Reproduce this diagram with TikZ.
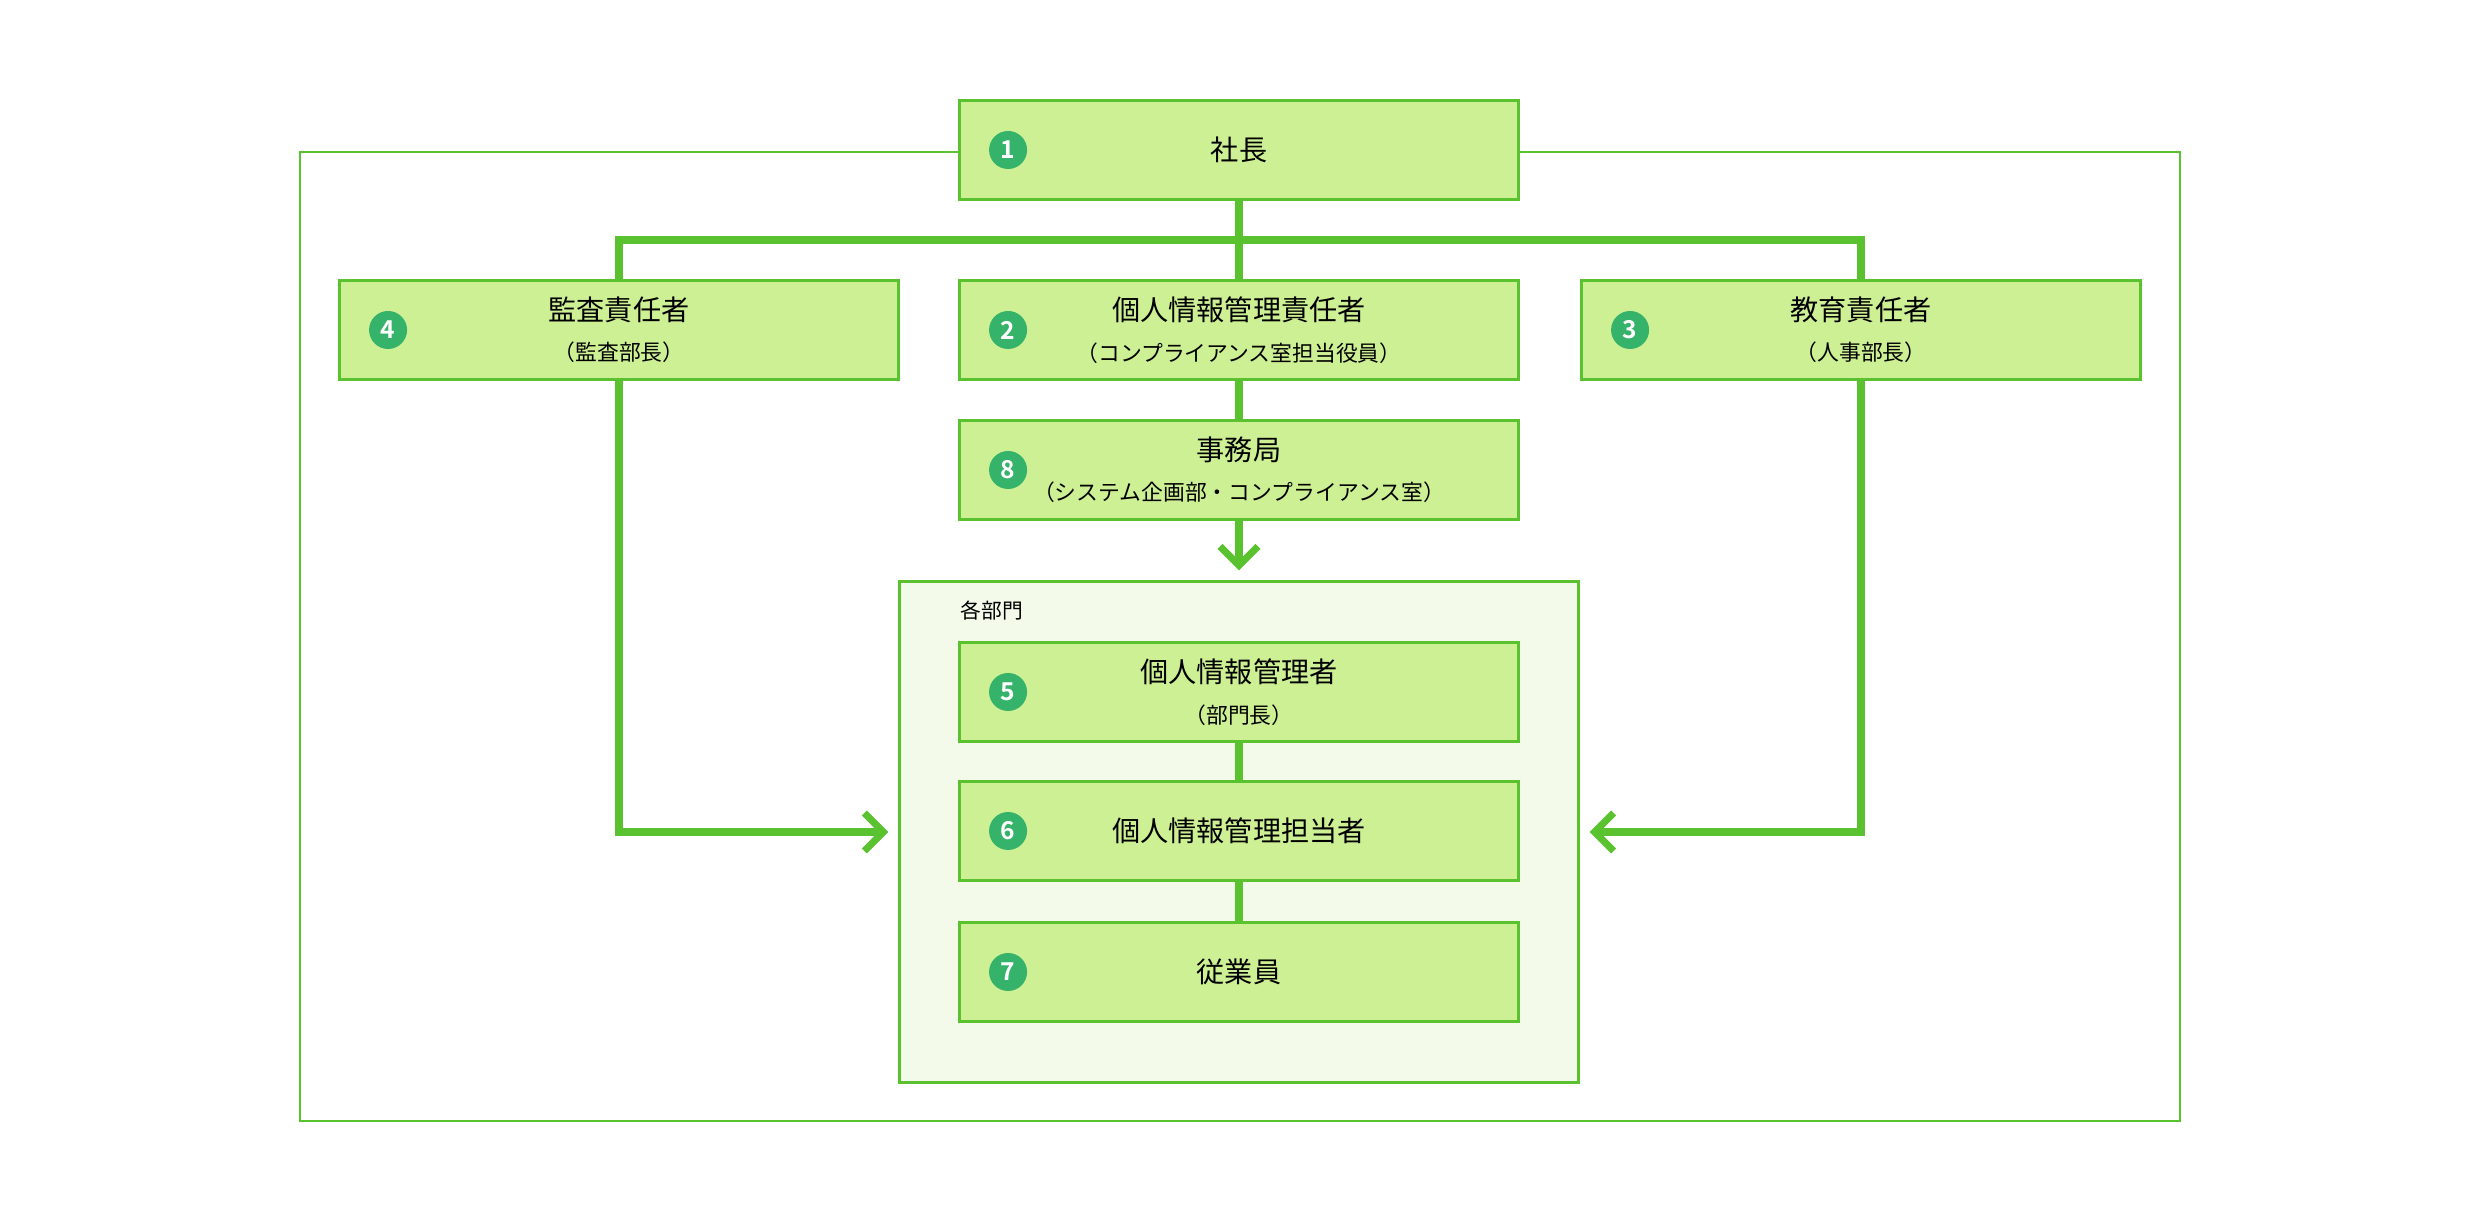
\documentclass[tikz,border=0pt]{standalone}
\usepackage{fontspec}
\setmainfont{Noto Sans CJK JP}[BoldFont={Noto Sans CJK JP Bold}]
\usetikzlibrary{positioning, arrows.meta}
\definecolor{lngreen}{RGB}{91,194,47}
\definecolor{boxgreen}{RGB}{204,240,147}
\definecolor{deptgreen}{RGB}{243,250,233}
\definecolor{numgreen}{RGB}{54,179,106}
\newcommand{\subline}[1]{\\[1.5pt]{\fontsize{6.2pt}{7pt}\selectfont #1}}
\tikzset{
  blk/.style   = {draw=lngreen, fill=boxgreen, line width=0.85pt, minimum width=5.58cm,
                  minimum height=0.98cm, align=center, inner sep=0pt,
                  font=\fontsize{8pt}{10pt}\selectfont},
  num/.style   = {circle, fill=numgreen, text=white, minimum size=3.8mm, inner sep=0pt,
                  font=\bfseries\fontsize{7pt}{7pt}\selectfont},
  ln/.style    = {draw=lngreen, line width=2pt},
  ar/.style    = {ln, -{Straight Barb[length=1.9mm, width=3.8mm]}, shorten >=1mm},
  frm/.style   = {draw=lngreen, line width=0.55pt},
  grp/.style   = {draw=lngreen, fill=deptgreen, line width=0.85pt, minimum width=6.78cm,
                  minimum height=5cm, inner sep=0pt},
}

\begin{document}
\begin{tikzpicture}[x=0.01cm, y=-0.01cm]
  \useasboundingbox (0,0) rectangle (2480,1222);
  % outer frame
  \draw[frm] (300,152) rectangle (2180,1121);
  % department area
  \node[grp] (dept) at (1239,832) {};
  \node[anchor=west, inner sep=0pt, font=\fontsize{5.9pt}{6pt}\selectfont] (deptlbl) at (960,611) {各部門};
  % boxes
  \node[blk] (pres) at (1239,150) {社長};
  \node[blk] (aud)  at (619,330)  {監査責任者\subline{（監査部長）}};
  \node[blk] (mgr)  at (1239,330) {個人情報管理責任者\subline{（コンプライアンス室担当役員）}};
  \node[blk] (edu)  at (1861,330) {教育責任者\subline{（人事部長）}};
  \node[blk] (sec)  at (1239,470) {事務局\subline{（システム企画部・コンプライアンス室）}};
  \node[blk] (dm5)  at (1239,692) {個人情報管理者\subline{（部門長）}};
  \node[blk] (dm6)  at (1239,831) {個人情報管理担当者};
  \node[blk] (dm7)  at (1239,972) {従業員};
  % numbers
  \node[num, right=3mm of pres.west] (n1) {1};
  \node[num, right=3mm of mgr.west]  (n2) {2};
  \node[num, right=3mm of edu.west]  (n3) {3};
  \node[num, right=3mm of aud.west]  (n4) {4};
  \node[num, right=3mm of dm5.west]  (n5) {5};
  \node[num, right=3mm of dm6.west]  (n6) {6};
  \node[num, right=3mm of dm7.west]  (n7) {7};
  \node[num, right=3mm of sec.west]  (n8) {8};
  % connectors
  \coordinate (bus) at (1239,240);
  \draw[ln] (pres) -- (mgr);
  \draw[ln] (aud.north) |- (bus) -| (edu.north);
  \draw[ln] (mgr) -- (sec);
  \draw[ar] (sec) -- (dept);
  \draw[ln] (dm5) -- (dm6);
  \draw[ln] (dm6) -- (dm7);
  \draw[ar] (aud.south) |- (dept.west);
  \draw[ar] (edu.south) |- (dept.east);
\end{tikzpicture}
\end{document}
